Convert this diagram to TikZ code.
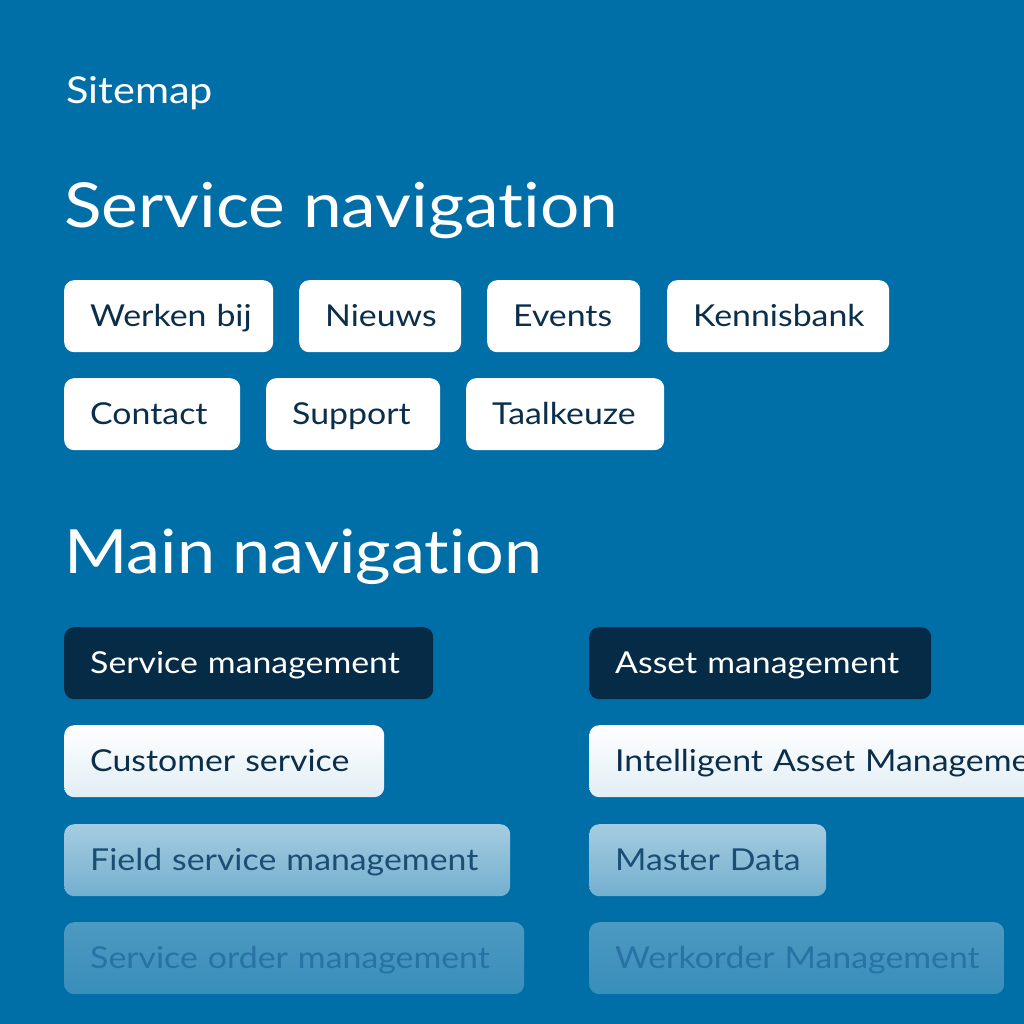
\documentclass[tikz,border=0pt]{standalone}
\usepackage{fontspec}
\setmainfont[FakeStretch=1.12,Ligatures={NoCommon,NoRequired,NoContextual}]{Lato}
\newfontfamily\chipfont[FakeStretch=1.12,WordSpace=1.8,Ligatures={NoCommon,NoRequired,NoContextual}]{Lato}
\definecolor{bg}{HTML}{006EA7}
\definecolor{navy}{HTML}{062B46}
\definecolor{ink}{HTML}{0B2E4B}
\definecolor{inkB}{HTML}{1A4E75}
\definecolor{inkC}{HTML}{2872A6}
\tikzset{
  chip/.style={rounded corners=10pt, anchor=north west, inner xsep=26pt, inner ysep=0pt,
    minimum height=72pt, align=left, text height=21pt, text depth=0pt,
    font=\chipfont\fontsize{30.2}{31}\selectfont,
    execute at begin node=\hbox\bgroup, execute at end node=\egroup},
  whitechip/.style={chip, fill=white, text=ink},
  darkchip/.style={chip, fill=navy, text=white},
  fadeA/.style={chip, top color=white, bottom color=white!80!bg!60!white, text=ink},
  fadeB/.style={chip, top color=white!65!bg, bottom color=white!45!bg, text=inkB},
  fadeC/.style={chip, top color=white!30!bg, bottom color=white!22!bg, text=inkC},
  title/.style={anchor=base west, inner sep=0pt, text=white},
  cw/.code={\pgfmathsetmacro\chipw{#1-52}\tikzset{text width=\chipw pt}},
}
\begin{document}
\begin{tikzpicture}[x=1pt,y=-1pt]
\fill[bg] (0,0) rectangle (1024,1024);
\useasboundingbox (0,0) rectangle (1024,1024);
\clip (0,0) rectangle (1024,1024);
\node[title, font=\fontsize{37}{38}\selectfont] (sitemap) at (66,104) {Sitemap};
\node[title, font=\fontsize{62}{64}\selectfont] (sn) at (64,227) {Service navigation};
\node[title, font=\fontsize{61}{64}\selectfont] (mn) at (64,573) {Main navigation};
% service navigation
\node[whitechip, cw=209] (werken) at (64,280) {Werken bij};
\node[whitechip, cw=162] (nieuws) at (299,280) {Nieuws};
\node[whitechip, cw=153] (events) at (487,280) {Events};
\node[whitechip, cw=222] (kennis) at (667,280) {Kennisbank};
\node[whitechip, cw=176] (contact) at (64,378) {Contact};
\node[whitechip, cw=174] (support) at (266,378) {Support};
\node[whitechip, cw=198] (taal) at (466,378) {Taalkeuze};
% main navigation
\node[darkchip, cw=369] (sm) at (64,627) {Service management};
\node[darkchip, cw=342] (am) at (589,627) {Asset management};
\node[fadeA, cw=320] (cs) at (64,725) {Customer service};
\node[fadeA, cw=520] (iam) at (589,725) {Intelligent Asset Management};
\node[fadeB, cw=446] (fsm) at (64,824) {Field service management};
\node[fadeB, cw=237] (md) at (589,824) {Master Data};
\node[fadeC, cw=460] (som) at (64,922) {Service order management};
\node[fadeC, cw=415] (wm) at (589,922) {Werkorder Management};
\end{tikzpicture}
\end{document}
